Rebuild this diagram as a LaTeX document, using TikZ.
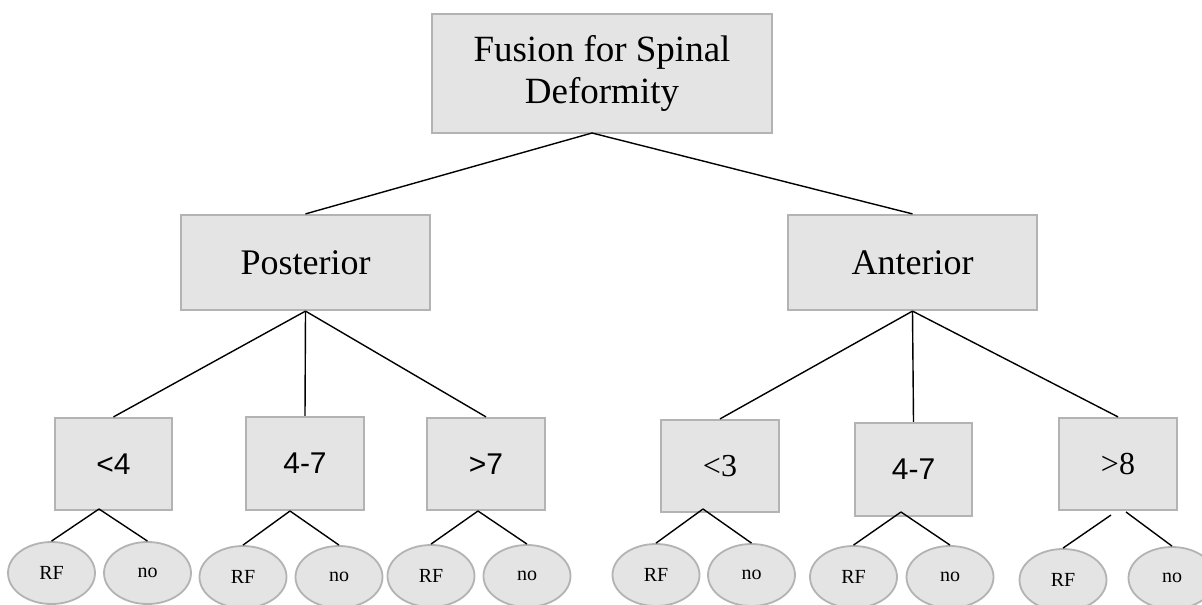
\documentclass[tikz,border=0pt]{standalone}
\usepackage{fontspec}
\setmainfont{Liberation Serif}
\newfontfamily\sansf{Liberation Sans}
\usetikzlibrary{shapes.geometric}
\definecolor{boxfill}{HTML}{E4E4E4}
\definecolor{boxline}{HTML}{B3B3B3}
\tikzset{
  box/.style={draw=boxline, line width=2.2pt, fill=boxfill, rectangle, inner sep=0pt, align=center, text=black},
  leaf/.style={draw=boxline, line width=1.8pt, fill=boxfill, ellipse, inner sep=0pt, minimum width=87pt, minimum height=62pt, font=\fontsize{20}{22}\selectfont},
  conn/.style={draw=black, line width=1.4pt},
  big/.style={font=\fontsize{37}{42}\selectfont},
  mid/.style={font=\fontsize{36}{40}\selectfont},
  midS/.style={font=\sansf\fontsize{30}{32}\selectfont},
  midR/.style={font=\fontsize{32}{34}\selectfont}
}
\begin{document}
\begin{tikzpicture}[x=1pt,y=-1pt]
\useasboundingbox (0,0) rectangle (1202,605);
\fill[white] (0,0) rectangle (1202,605);
% boxes
\node[box, big, minimum width=340pt, minimum height=119pt] (top) at (602,73.5) {Fusion for Spinal\\Deformity};
\node[box, mid, minimum width=249pt, minimum height=95pt] (post) at (305.5,262.5) {Posterior};
\node[box, mid, minimum width=249pt, minimum height=95pt] (ant) at (912.5,262.5) {Anterior};
\node[box, midS, minimum width=117pt, minimum height=92pt] (lt4) at (113.5,464) {<4};
\node[box, midS, minimum width=118pt, minimum height=93pt] (p47) at (305,463.5) {4-7};
\node[box, midS, minimum width=118pt, minimum height=92pt] (gt7) at (486,464) {>7};
\node[box, midR, minimum width=118pt, minimum height=92pt] (lt3) at (720,466) {<3};
\node[box, midS, minimum width=117pt, minimum height=93pt] (a47) at (913.5,469.5) {4-7};
\node[box, midR, minimum width=118pt, minimum height=92pt] (gt8) at (1118,464) {>8};
% leaves
\node[leaf] (lt4rf) at (51.5,573) {RF};
\node[leaf] (lt4no) at (147.5,573) {no};
\node[leaf] (p47rf) at (243,577) {RF};
\node[leaf] (p47no) at (339,577) {no};
\node[leaf] (gt7rf) at (431,576) {RF};
\node[leaf] (gt7no) at (527,576) {no};
\node[leaf] (lt3rf) at (656,575) {RF};
\node[leaf] (lt3no) at (751.5,575) {no};
\node[leaf] (a47rf) at (853.5,577) {RF};
\node[leaf] (a47no) at (950,577) {no};
\node[leaf] (gt8rf) at (1063,580) {RF};
\node[leaf] (gt8no) at (1172,578) {no};
% apex coordinates
\coordinate (topap) at (592,133);
\coordinate (lt4ap) at (99,509);
\coordinate (p47ap) at (290,511);
\coordinate (gt7ap) at (478,511);
\coordinate (lt3ap) at (703,509);
\coordinate (a47ap) at (901,512);
\coordinate (gt8apL) at (1111,515);
\coordinate (gt8apR) at (1126,512);
% connectors
\draw[conn] (topap) -- (post.north);
\draw[conn] (topap) -- (ant.north);
\draw[conn] (post.south) -- (lt4.north);
\draw[conn] (post.south) -- (p47.north);
\draw[conn] (post.south) -- (gt7.north);
\draw[conn] (ant.south) -- (lt3.north);
\draw[conn] (ant.south) -- (a47.north);
\draw[conn] (ant.south) -- (gt8.north);
\draw[conn] (lt4ap) -- (lt4rf.north);
\draw[conn] (lt4ap) -- (lt4no.north);
\draw[conn] (p47ap) -- (p47rf.north);
\draw[conn] (p47ap) -- (p47no.north);
\draw[conn] (gt7ap) -- (gt7rf.north);
\draw[conn] (gt7ap) -- (gt7no.north);
\draw[conn] (lt3ap) -- (lt3rf.north);
\draw[conn] (lt3ap) -- (lt3no.north);
\draw[conn] (a47ap) -- (a47rf.north);
\draw[conn] (a47ap) -- (a47no.north);
\draw[conn] (gt8apL) -- (gt8rf.north);
\draw[conn] (gt8apR) -- (gt8no.north);
\end{tikzpicture}
\end{document}
